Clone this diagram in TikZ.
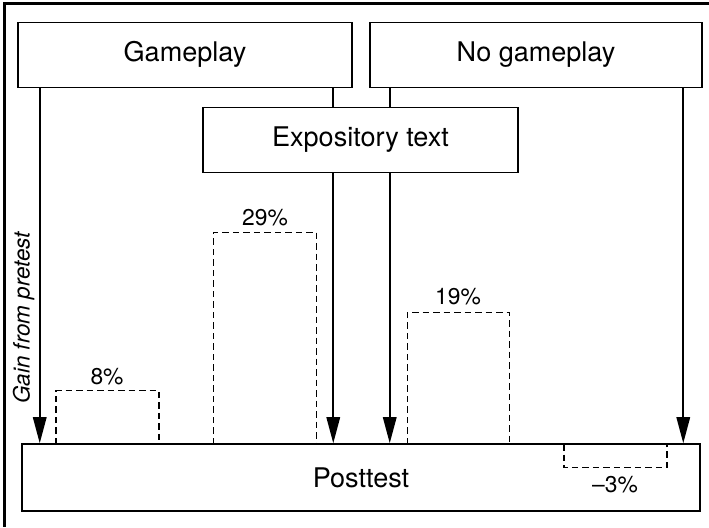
\documentclass[tikz,border=0pt]{standalone}
\usepackage{fontspec}
\setmainfont{TeX Gyre Heros}
\usepackage{tikz}
\usetikzlibrary{arrows.meta, positioning, calc}

\begin{document}
\begin{tikzpicture}[
    x=0.02cm, y=-0.02cm,
    block/.style={draw, line width=0.9pt, minimum height=1.3cm,
                  minimum width=#1, inner sep=0pt,
                  font=\fontsize{15.4}{18}\selectfont},
    arr/.style={-{Triangle[length=0.52cm, width=0.27cm]}, line width=0.9pt},
    link/.style={line width=0.9pt},
    bar/.style={dashed, dash pattern=on 0.13cm off 0.08cm, line width=0.9pt},
    lbl/.style={font=\fontsize{13}{15}\selectfont, inner sep=0pt},
  ]
  \useasboundingbox (0,0) rectangle (709,527);

  % ── FRAME ──
  \draw[line width=1.3pt] (709,3.5) -- (4.5,3.5) -- (4.5,527);

  % ── CONDITIONS ──
  \node[block=6.68cm] (game) at (185,54.8) {Gameplay};
  \node[block=6.64cm] (nogame) at (536,54.8) {No gameplay};
  \node[block=6.29cm] (expo) at (360.5,139.8) {Expository text};

  % ── POSTTEST ──
  \node[block=13.56cm, minimum height=1.34cm] (post) at (361,477.5) {Posttest};

  % ── ARROWS ──
  \draw[arr] ([xshift=0.45cm]game.south west)
    -- ([xshift=0.45cm]game.south west |- post.north);
  \draw[link] ([xshift=-0.39cm]game.south east)
    -- ([xshift=-0.39cm]game.south east |- expo.north);
  \draw[arr] ([xshift=-0.39cm]game.south east |- expo.south)
    -- ([xshift=-0.39cm]game.south east |- post.north);
  \draw[link] ([xshift=0.41cm]nogame.south west)
    -- ([xshift=0.41cm]nogame.south west |- expo.north);
  \draw[arr] ([xshift=0.41cm]nogame.south west |- expo.south)
    -- ([xshift=0.41cm]nogame.south west |- post.north);
  \draw[arr] ([xshift=-0.39cm]nogame.south east)
    -- ([xshift=-0.39cm]nogame.south east |- post.north);

  % ── GAINS ──
  \draw[bar] (56,444) -- (56,390.7) -- (159,390.7) -- (159,444);
  \node[lbl] (g1) at (107,377) {8\%};
  \draw[bar] (213.7,444) -- (213.7,232.3) -- (316.7,232.3) -- (316.7,444);
  \node[lbl] (g2) at (265,218) {29\%};
  \draw[bar] (407.3,444) -- (407.3,312.3) -- (509.3,312.3) -- (509.3,444);
  \node[lbl] (g3) at (458,297) {19\%};
  \draw[bar] (564,444) -- (564,467.7) -- (667,467.7) -- (667,444);
  \node[lbl] (g4) at (615,485) {--3\%};

  \node[lbl, rotate=90, font=\fontsize{12.8}{15}\selectfont\itshape]
    (axis) at (23.5,318) {Gain from pretest};
\end{tikzpicture}
\end{document}
